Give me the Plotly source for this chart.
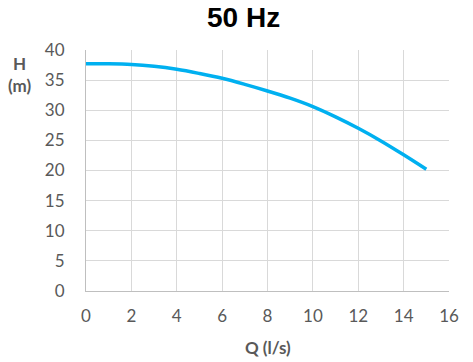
import plotly.graph_objects as go

flow_q = [0, 1, 2, 3, 4, 5, 6, 7, 8, 9, 10, 11, 12, 13, 14, 15]
head_h = [37.7, 37.7, 37.6, 37.3, 36.8, 36.1, 35.3, 34.3, 33.2, 32.0, 30.6, 28.9, 27.0, 24.9, 22.6, 20.2]
x_ticks = [0, 2, 4, 6, 8, 10, 12, 14, 16]
y_ticks = [0, 5, 10, 15, 20, 25, 30, 35, 40]

fig = go.Figure()
fig.add_trace(go.Scatter(x=flow_q, y=head_h, mode="lines",
                         line=dict(color="#00B0F0", width=3.5, shape="spline"),
                         showlegend=False, hoverinfo="skip"))

fig.update_layout(
    width=473, height=362,
    margin=dict(l=86, r=24, t=50, b=71),
    paper_bgcolor="white", plot_bgcolor="white",
    title=dict(text="<b>50 Hz</b>", x=0.515, xanchor="center", y=0.952, yanchor="middle",
               font=dict(family="Liberation Sans, Arial", size=28, color="#000000")),
    xaxis=dict(range=[0, 16], tickvals=x_ticks, ticktext=[str(v) for v in x_ticks],
               showgrid=True, gridcolor="#D9D9D9", gridwidth=1,
               showline=True, linecolor="#BFBFBF", linewidth=1, zeroline=False,
               ticks="", ticklabelstandoff=10,
               tickfont=dict(family="Lato, Open Sans", size=17, color="#595959")),
    yaxis=dict(range=[0, 40], tickvals=y_ticks, ticktext=[str(v) for v in y_ticks],
               showgrid=True, gridcolor="#D9D9D9", gridwidth=1,
               showline=True, linecolor="#BFBFBF", linewidth=1, zeroline=False,
               ticks="", ticklabelstandoff=17,
               tickfont=dict(family="Lato, Open Sans", size=17, color="#595959")),
    annotations=[
        dict(text="<b>H<br>(m)</b>", xref="paper", yref="paper",
             x=-0.182, y=0.90, xanchor="center", yanchor="middle", showarrow=False,
             font=dict(family="Lato, Open Sans", size=17, color="#595959")),
        dict(text="<b>Q (l/s)</b>", xref="paper", yref="paper",
             x=0.5, y=-0.236, xanchor="center", yanchor="middle", showarrow=False,
             font=dict(family="Lato, Open Sans", size=17, color="#595959")),
    ],
)

fig.write_html("out.html", config={"displayModeBar": False},
               post_script="document.body.style.margin='0';")
